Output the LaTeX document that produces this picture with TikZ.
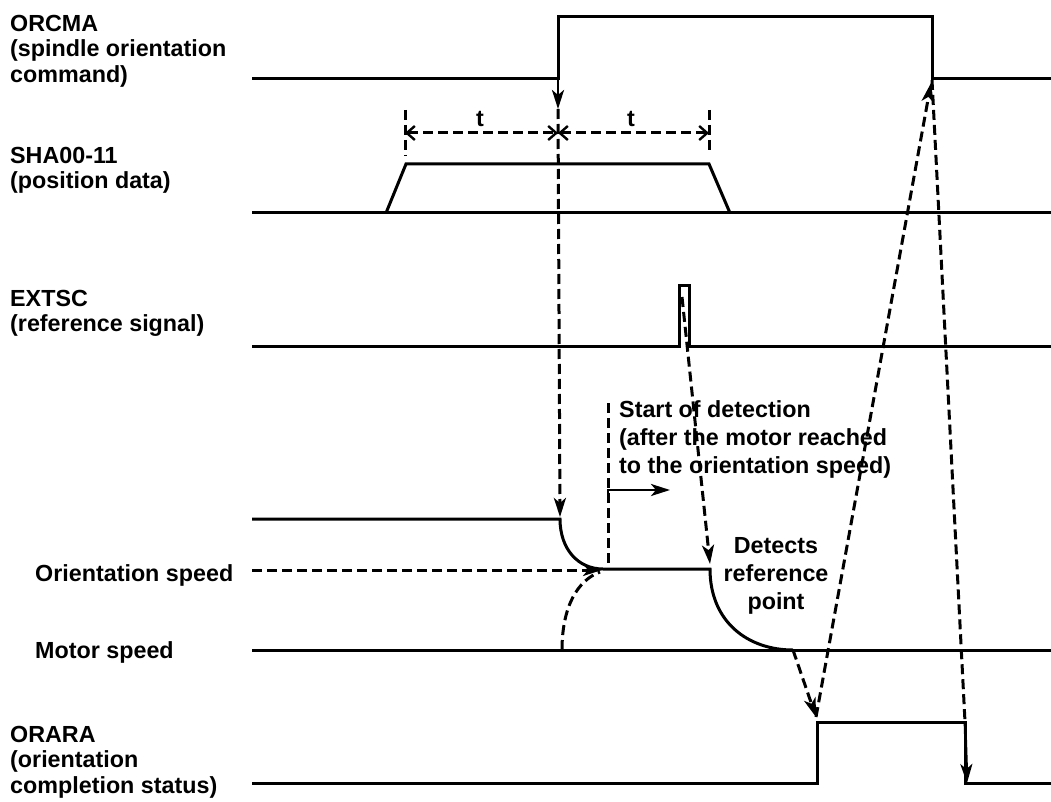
\documentclass[tikz,border=0pt]{standalone}
\usepackage{fontspec}
\setmainfont{Liberation Sans}
\usetikzlibrary{arrows.meta}
\begin{document}
\begin{tikzpicture}[x=1pt,y=-1pt,
  sig/.style={line width=3pt, line join=miter},
  dsh/.style={line width=3pt, dash pattern=on 10pt off 5pt},
  tip/.style={-{Stealth[length=19pt,width=12pt,inset=5pt]}},
  barbs/.style={{Straight Barb[length=8pt,width=14pt,line width=2.4pt]}-{Straight Barb[length=8pt,width=14pt,line width=2.4pt]}},
  lbl/.style={font=\fontsize{23.3}{25.5}\selectfont\bfseries, inner sep=0pt, align=left, anchor=north west},
  lblb/.style={font=\fontsize{23.3}{28}\selectfont\bfseries, inner sep=0pt, align=left, anchor=north west}
]
\useasboundingbox (0,0) rectangle (1051,802);

% ---------- coordinates ----------
\coordinate (cmaRise) at (558,80);
\coordinate (cmaArr) at (558,109);
\coordinate (cmaFall) at (932,80);
\coordinate (cmaFallTip) at (931,83);
\coordinate (tL) at (405,133);
\coordinate (tM) at (558,133);
\coordinate (tR) at (709,133);
\coordinate (decStart) at (560,517);
\coordinate (ospdL) at (252,570);
\coordinate (ospdEnd) at (602,570);
\coordinate (dcBot) at (562,650);
\coordinate (dcTop) at (600,572);
\coordinate (sdTop) at (608,403);
\coordinate (sdBot) at (608,568);
\coordinate (sdCorner) at (608,490);
\coordinate (sdArr) at (670,490);
\coordinate (pulse) at (682,297);
\coordinate (detTip) at (710,564);
\coordinate (mzero) at (793,650);
\coordinate (araRise) at (816,717);
\coordinate (araFallA) at (965,722);
\coordinate (araFallTip) at (967,783);

% ---------- signals ----------
% ORCMA
\draw[sig] (252,79) -| (558,17) -| (932,79) -- (1051,79);
% SHA00-11
\draw[sig] (252,213) -- (1051,213);
\draw[sig] (386,213) -- (406,164) -- (709,164) -- (730,213);
% EXTSC
\draw[sig] (252,346) -- (679,346) |- (689,285) -- (689,346) -- (1051,346);
% Motor speed
\draw[sig] (252,519) -- (560,519) .. controls (560,549) and (578,569) .. (603,569)
  -- (710,569) .. controls (710,622) and (748,650) .. (793,650);
\draw[sig] (252,650) -- (1051,650);
% ORARA
\draw[sig] (252,783) -| (817,722) -| (965,783) -- (1051,783);

% ---------- connectors ----------
\draw[line width=2.8pt, tip] (cmaRise) -- (cmaArr);
\draw[dsh, tip] (cmaArr) -- (decStart);
\draw[dsh] (405,110) -- (405,156);
\draw[dsh] (709,110) -- (709,153);
\draw[dsh, barbs] (tL) -- (tM);
\draw[dsh, barbs] (tM) -- (tR);
\draw[dsh, tip] (ospdL) -- (ospdEnd);
\draw[dsh] (dcBot) .. controls (562,606) and (578,580) .. (dcTop);
\draw[dsh] (sdTop) -- (sdBot);
\draw[line width=2.8pt, tip] (608,498) -- (sdCorner) -- (sdArr);
\draw[dsh, tip] (pulse) -- (detTip);
\draw[dsh, tip] (mzero) -- (araRise);
\draw[dsh, tip] (araRise) -- (cmaFallTip);
\draw[dsh] (cmaFall) -- (araFallA);
\draw[line width=2.8pt, tip] (araFallA) -- (araFallTip);

% ---------- labels ----------
\node[lbl] (orcma) at (10,15) {ORCMA\\(spindle orientation\\command)};
\node[lbl] (sha) at (10,147) {SHA00-11\\(position data)};
\node[lbl] (extsc) at (10,290) {EXTSC\\(reference signal)};
\node[lbl] (orara) at (10,726) {ORARA\\(orientation\\completion status)};
\node[lbl, anchor=base west] (ospd) at (35,581) {Orientation speed};
\node[lbl, anchor=base west] (mspd) at (35,658) {Motor speed};
\node[lbl, anchor=base] (t1) at (480,127) {t};
\node[lbl, anchor=base] (t2) at (631,127) {t};
\node[lblb] (start) at (619,400) {Start of detection\\(after the motor reached\\to the orientation speed)};
\node[lblb, align=center, anchor=north] (detect) at (776,537) {Detects\\reference\\point};
\end{tikzpicture}
\end{document}
